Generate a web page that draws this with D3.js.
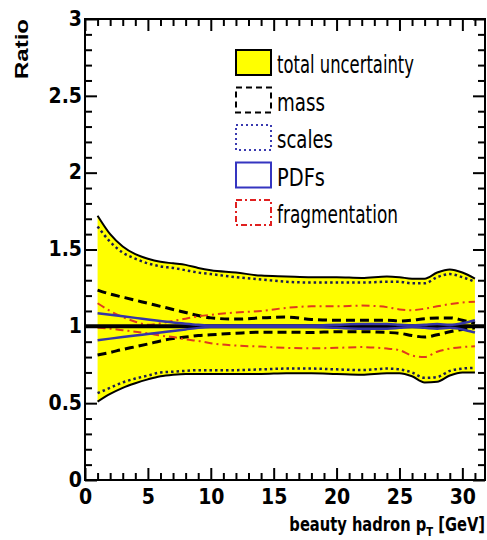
<!DOCTYPE html>
<html>
<head>
<meta charset="utf-8">
<script src="https://cdn.jsdelivr.net/npm/d3@7"></script>
<style>
	body { margin: 0; background: #fff; }
	svg { display: block; }
</style>
</head>
<body>
<svg id="chart"></svg>
<script>
const pT = [1, 2, 3, 4, 5, 6, 7, 8, 9, 10, 12, 14, 16, 18, 20, 22, 24, 25, 26, 27, 28, 29, 30, 31];

const totalUp = [1.72, 1.6, 1.52, 1.47, 1.44, 1.42, 1.41, 1.4, 1.38, 1.365, 1.35, 1.33, 1.325, 1.32, 1.32, 1.315, 1.325, 1.32, 1.31, 1.31, 1.35, 1.37, 1.35, 1.31];
const totalDown = [0.51, 0.56, 0.6, 0.63, 0.655, 0.675, 0.685, 0.69, 0.69, 0.69, 0.69, 0.69, 0.695, 0.695, 0.69, 0.685, 0.695, 0.695, 0.675, 0.635, 0.64, 0.68, 0.7, 0.7];

const scalesUp = [1.65, 1.55, 1.48, 1.44, 1.41, 1.39, 1.38, 1.365, 1.35, 1.34, 1.32, 1.305, 1.29, 1.285, 1.285, 1.285, 1.29, 1.29, 1.28, 1.28, 1.32, 1.34, 1.32, 1.29];
const scalesDown = [0.565, 0.6, 0.635, 0.66, 0.68, 0.7, 0.705, 0.71, 0.715, 0.715, 0.715, 0.72, 0.725, 0.725, 0.72, 0.715, 0.725, 0.72, 0.7, 0.665, 0.67, 0.71, 0.725, 0.73];

const massUp = [1.236, 1.21, 1.19, 1.17, 1.15, 1.13, 1.11, 1.09, 1.07, 1.055, 1.047, 1.055, 1.06, 1.045, 1.04, 1.04, 1.04, 1.035, 1.04, 1.05, 1.055, 1.055, 1.04, 1.02];
const massDown = [0.813, 0.83, 0.85, 0.867, 0.885, 0.905, 0.92, 0.93, 0.94, 0.945, 0.955, 0.962, 0.962, 0.96, 0.965, 0.965, 0.96, 0.955, 0.94, 0.93, 0.945, 0.965, 0.98, 0.99];

const pdfUp = [1.085, 1.075, 1.065, 1.055, 1.045, 1.035, 1.025, 1.017, 1.01, 1.005, 1.005, 1.005, 1.005, 1.005, 1.01, 1.015, 1.015, 1.01, 1.005, 1.01, 1.015, 1.01, 1.02, 1.04];
const pdfDown = [0.91, 0.92, 0.93, 0.94, 0.95, 0.96, 0.97, 0.98, 0.99, 0.995, 0.995, 0.995, 0.995, 0.995, 0.99, 0.985, 0.985, 0.99, 0.995, 0.99, 0.985, 0.99, 0.98, 0.96];

const fragUp = [1.15, 1.1, 1.06, 1.03, 1.01, 1.02, 1.035, 1.05, 1.065, 1.075, 1.09, 1.1, 1.12, 1.13, 1.13, 1.135, 1.125, 1.11, 1.105, 1.115, 1.13, 1.145, 1.155, 1.16];
const fragDown = [0.99, 0.985, 0.975, 0.965, 0.955, 0.94, 0.93, 0.915, 0.905, 0.89, 0.875, 0.868, 0.86, 0.857, 0.86, 0.865, 0.855, 0.845, 0.81, 0.8, 0.835, 0.855, 0.865, 0.87];

const xTicks = [0, 5, 10, 15, 20, 25, 30];
const yTicks = [0, 0.5, 1, 1.5, 2, 2.5, 3];
const yTickLabels = ["0", "0.5", "1", "1.5", "2", "2.5", "3"];

const legendLabels = ["total uncertainty", "mass", "scales", "PDFs", "fragmentation"];

const W = 487;
const H = 540;
const margin = { left: 85, right: 2, top: 19, bottom: 60 };
const FONT = "'Liberation Sans', Arial, Helvetica, sans-serif";
const NARROW = "'Liberation Sans Narrow', 'Arial Narrow', 'DejaVu Sans Condensed', sans-serif";

const svg = d3.select("#chart").attr("width", W).attr("height", H);

const x = d3.scaleLinear().domain([0, 31.8]).range([margin.left, W - margin.right]);
const y = d3.scaleLinear().domain([0, 3]).range([H - margin.bottom, margin.top]);

const pts = (lo, hi) => pT.map((p, i) => ({ p, lo: lo[i], hi: hi ? hi[i] : null }));

// yellow band
svg.append("path")
	.datum(pts(totalDown, totalUp))
	.attr("d", d3.area().x((d) => x(d.p)).y0((d) => y(d.lo)).y1((d) => y(d.hi)).curve(d3.curveMonotoneX))
	.style("fill", "#ffff00")
	.style("stroke", "none");

const line = d3.line().x((d) => x(d.p)).y((d) => y(d.lo)).curve(d3.curveMonotoneX);

function drawPair(up, down, style) {
	for (const arr of [up, down]) {
		svg.append("path")
			.datum(pts(arr))
			.attr("d", line)
			.style("fill", "none")
			.style("stroke", style.color)
			.style("stroke-width", style.width)
			.style("stroke-dasharray", style.dash);
	}
}

const styles = {
	total: { color: "#000", width: 2, dash: null },
	mass: { color: "#000", width: 3, dash: "9 5" },
	scales: { color: "#1c1c50", width: 2.5, dash: "2.5 3" },
	pdf: { color: "#3535a8", width: 2.5, dash: null },
	frag: { color: "#e03a1e", width: 2, dash: "8 4 2 4" },
};

drawPair(scalesUp, scalesDown, styles.scales);
drawPair(massUp, massDown, styles.mass);
drawPair(fragUp, fragDown, styles.frag);
drawPair(totalUp, totalDown, styles.total);

// central ratio = 1 line
svg.append("line")
	.attr("x1", x(0)).attr("x2", x(31.8))
	.attr("y1", y(1)).attr("y2", y(1))
	.style("stroke", "#000")
	.style("stroke-width", 4);

drawPair(pdfUp, pdfDown, styles.pdf);

// axes, ticks on all four sides pointing inward
const xMinor = d3.range(0, 32, 1).filter((v) => v % 5 !== 0);
const yMinor = d3.range(0, 30, 1).map((v) => v / 10).filter((v, i) => i % 5 !== 0);

function addAxis(axisFn, scale, pos, major, minor, labels) {
	const g = svg.append("g").attr("transform", pos);
	g.call(axisFn(scale).tickValues(minor).tickSizeInner(-7).tickSizeOuter(0).tickFormat(""));
	const g2 = svg.append("g").attr("transform", pos);
	g2.call(axisFn(scale).tickValues(major).tickSizeInner(-12).tickSizeOuter(0).tickPadding(9)
		.tickFormat(labels ? (d, i) => labels[i] : ""));
	for (const s of [g, g2]) {
		s.select(".domain").remove();
		s.selectAll("line").style("stroke", "#000").style("stroke-width", 2);
	}
	g2.selectAll("text")
		.style("font-family", NARROW)
		.style("font-weight", "bold")
		.style("font-size", "21px")
		.style("fill", "#000");
	return g2;
}

addAxis(d3.axisBottom, x, `translate(0,${y(0)})`, xTicks, xMinor, xTicks.map(String));
addAxis(d3.axisTop, x, `translate(0,${y(3)})`, xTicks, xMinor, null);
const yAx = addAxis(d3.axisLeft, y, `translate(${x(0)},0)`, yTicks, yMinor, yTickLabels);
yAx.selectAll("text").attr("x", -3).attr("dy", "0.3em");
addAxis(d3.axisRight, y, `translate(${x(31.8)},0)`, yTicks, yMinor, null);

svg.append("rect")
	.attr("x", x(0)).attr("y", y(3))
	.attr("width", x(31.8) - x(0)).attr("height", y(0) - y(3))
	.style("fill", "none")
	.style("stroke", "#000")
	.style("stroke-width", 2);

// axis titles
svg.append("text")
	.attr("transform", `translate(28,${y(3)}) rotate(-90)`)
	.attr("text-anchor", "end")
	.attr("textLength", 60)
	.attr("lengthAdjust", "spacingAndGlyphs")
	.style("font-family", FONT)
	.style("font-weight", "bold")
	.style("font-size", "18px")
	.text("Ratio");

const xt = svg.append("text")
	.attr("transform", "translate(485,531) scale(0.86,1)")
	.attr("text-anchor", "end")
	.style("font-family", NARROW)
	.style("font-weight", "bold")
	.style("font-size", "19px");
xt.append("tspan").text("beauty hadron p");
xt.append("tspan").attr("dy", 5).style("font-size", "13px").text("T");
xt.append("tspan").attr("dy", -5).text(" [GeV]");

// legend
const legendKeys = ["total", "mass", "scales", "pdf", "frag"];
const legendWidths = [137, 48, 56, 48, 121];
const legendColors = { total: "#000", mass: "#000", scales: "#3a3ab0", pdf: "#3535c0", frag: "#e02020" };
const legendDash = { total: null, mass: "6 4", scales: "2 3", pdf: null, frag: "6 3 2 3" };
const leg = svg.append("g");
legendKeys.forEach((k, i) => {
	const top = 50 + i * 37.5;
	leg.append("rect")
		.attr("x", 236).attr("y", top)
		.attr("width", 35).attr("height", 25)
		.style("fill", k === "total" ? "#ffff00" : "none")
		.style("stroke", legendColors[k])
		.style("stroke-width", 2)
		.style("stroke-dasharray", legendDash[k]);
	leg.append("text")
		.attr("x", 277).attr("y", top + 23)
		.attr("textLength", legendWidths[i])
		.attr("lengthAdjust", "spacingAndGlyphs")
		.style("font-family", NARROW)
		.style("font-size", "25px")
		.style("fill", "#000")
		.text(legendLabels[i]);
});
</script>
</body>
</html>
